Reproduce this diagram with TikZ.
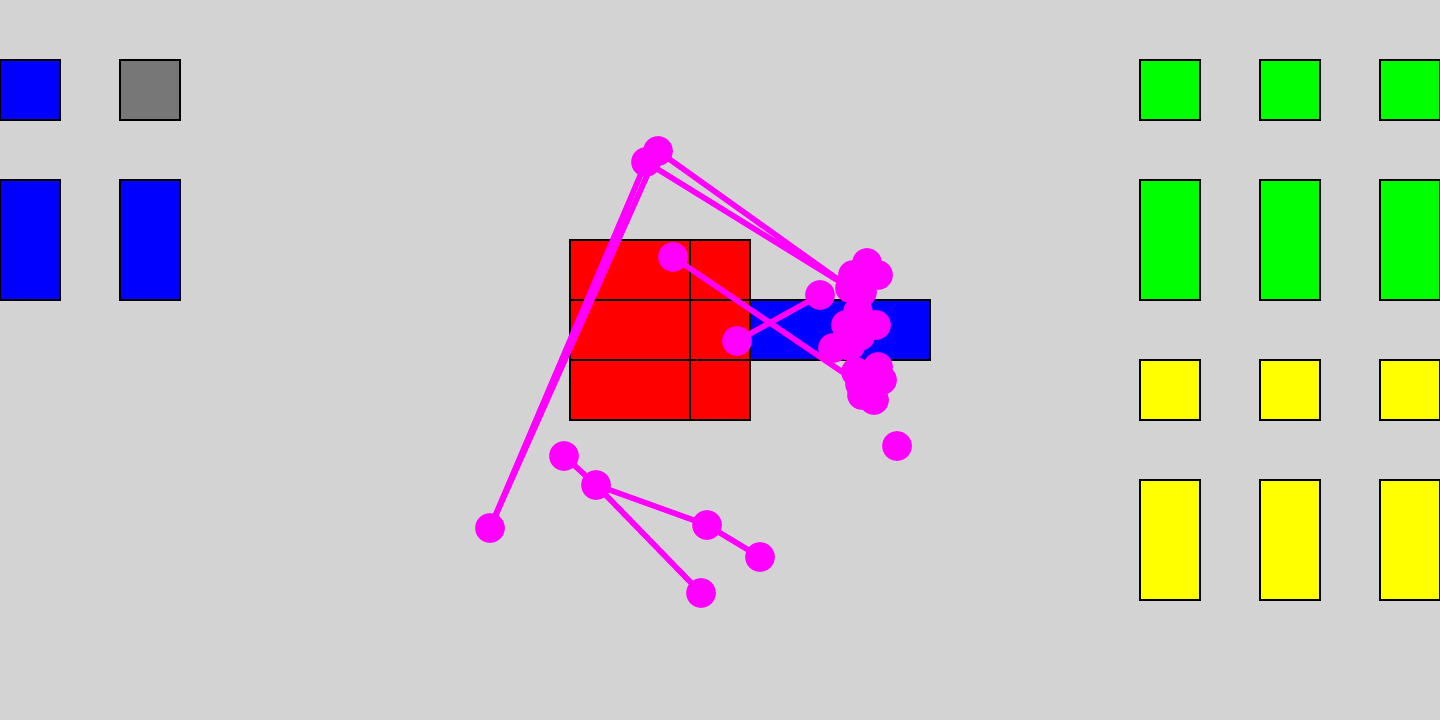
\documentclass[tikz,border=0pt]{standalone}
\definecolor{bgc}{RGB}{211,211,211}
\definecolor{mag}{RGB}{255,0,255}
\definecolor{grn}{RGB}{0,255,0}
\definecolor{ylw}{RGB}{255,255,0}
\definecolor{gry}{RGB}{119,119,119}
\begin{document}
\begin{tikzpicture}[x=0.025cm,y=-0.025cm,
  box/.style={draw=black,line width=1.8pt,minimum width=1.5cm,inner sep=0pt,outer sep=0pt},
  sq/.style={box,minimum height=1.5cm},
  tall/.style={box,minimum height=3cm},
  dot/.style={circle,fill=mag,minimum size=0.74cm,inner sep=0pt},
  link/.style={draw=mag,line width=4pt}]
\useasboundingbox[fill=bgc] (0,0) rectangle (1440,720);
% left
\node[sq,fill=blue] (lb1) at (30,90) {};
\node[sq,fill=gry] (lg1) at (150,90) {};
\node[tall,fill=blue] (lb2) at (30,240) {};
\node[tall,fill=blue] (lb3) at (150,240) {};
% right
\foreach \x/\n in {1170/a,1290/b,1410/c}{
  \node[sq,fill=grn] (g1\n) at (\x,90) {};
  \node[tall,fill=grn] (g2\n) at (\x,240) {};
  \node[sq,fill=ylw] (y1\n) at (\x,390) {};
  \node[tall,fill=ylw] (y2\n) at (\x,540) {};
}
% center
\draw[fill=red,line width=1.8pt] (570,240) rectangle (750,420);
\draw[line width=1.8pt] (690,240) -- (690,420) (570,300) -- (750,300) (570,360) -- (750,360);
\draw[fill=blue,line width=1.8pt] (750,300) rectangle (930,360);
% dots
\node[dot] (m1) at (658,151) {};
\node[dot] (m2) at (646,162) {};
\node[dot] (m3) at (490,528) {};
\node[dot] (m4) at (673,257) {};
\node[dot] (m5) at (737,341) {};
\node[dot] (m6) at (820,295) {};
\node[dot] (k1) at (867,263) {};
\node[dot] (k2) at (850,288) {};
\node[dot] (k3) at (878,275) {};
\node[dot] (k4) at (853,275) {};
\node[dot] (k5) at (862,292) {};
\node[dot] (k6) at (858,312) {};
\node[dot] (k7) at (876,325) {};
\node[dot] (k8) at (846,325) {};
\node[dot] (k9) at (860,336) {};
\node[dot] (k10) at (833,348) {};
\node[dot] (k11) at (850,346) {};
\node[dot] (k12) at (878,367) {};
\node[dot] (k13) at (882,380) {};
\node[dot] (k14) at (860,384) {};
\node[dot] (k15) at (856,372) {};
\node[dot] (k16) at (862,395) {};
\node[dot] (k17) at (874,400) {};
\node[dot] (k18) at (868,384) {};
\node[dot] (m7) at (897,446) {};
\node[dot] (b1) at (564,456) {};
\node[dot] (b2) at (596,485) {};
\node[dot] (b3) at (707,525) {};
\node[dot] (b4) at (760,557) {};
\node[dot] (b5) at (701,593) {};
% links
\path[link] (m1.center) -- (m3.center);
\path[link] (m2.center) -- (m3.center);
\path[link] (m1.center) -- (k2.center);
\path[link] (m2.center) -- (k2.center);
\path[link] (m4.center) -- (k14.center);
\path[link] (m5.center) -- (m6.center);
\path[link] (b1.center) -- (b2.center);
\path[link] (b2.center) -- (b3.center);
\path[link] (b3.center) -- (b4.center);
\path[link] (b2.center) -- (b5.center);
\end{tikzpicture}
\end{document}
